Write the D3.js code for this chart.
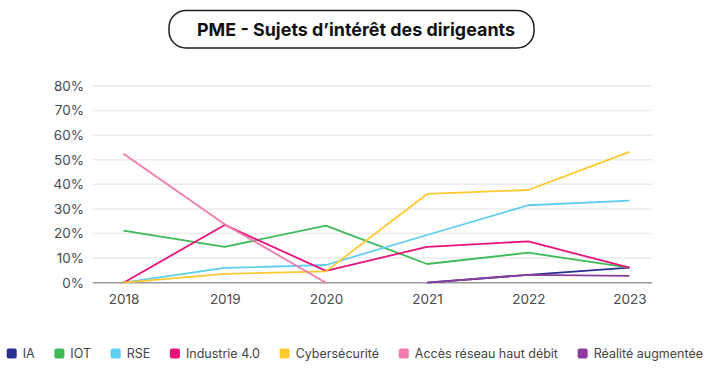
<!DOCTYPE html>
<html>
<head>
<meta charset="utf-8">
<script src="https://cdn.jsdelivr.net/npm/d3@7/dist/d3.min.js"></script>
<style>
  html, body { margin: 0; padding: 0; background: #ffffff; }
  svg { display: block; }
  text { font-family: Inter, "Open Sans", sans-serif; }
</style>
</head>
<body>
<svg id="chart" width="708" height="368"></svg>
<script>
const years = ["2018", "2019", "2020", "2021", "2022", "2023"];
const yTicks = [0, 10, 20, 30, 40, 50, 60, 70, 80];
const seriesNames = ["IA", "IOT", "RSE", "Industrie 4.0", "Cybersécurité", "Accès réseau haut débit", "Réalité augmentée"];
const seriesColors = ["#2b2f8f", "#3fba5b", "#5ecdf0", "#e8137b", "#fec92f", "#f37aaf", "#8b3d9e"];
const iaValues = [null, null, null, 0, 3.2, 6.1];
const iotValues = [21.2, 14.6, 23.2, 7.6, 12.2, 6.1];
const rseValues = [0, 6.0, 7.2, 19.4, 31.5, 33.4];
const industrieValues = [0, 23.5, 4.8, 14.6, 16.8, 6.1];
const cyberValues = [0, 3.6, 4.6, 36.1, 37.7, 53.2];
const accesValues = [52.4, 23.8, 0, null, null, null];
const realiteValues = [null, null, null, 0, 3.2, 2.8];
const seriesValues = [iaValues, iotValues, rseValues, industrieValues, cyberValues, accesValues, realiteValues];
const title = "PME - Sujets d’intérêt des dirigeants";

const svg = d3.select("#chart");

// Title box
const tg = svg.append("g");
tg.append("rect")
  .attr("x", 169).attr("y", 10.5).attr("width", 365).attr("height", 37.5)
  .attr("rx", 17).attr("ry", 17)
  .attr("fill", "#fff").attr("stroke", "#1f1f1f").attr("stroke-width", 1.5);
const tt = tg.append("text")
  .attr("x", 356).attr("y", 35.5)
  .attr("text-anchor", "middle")
  .attr("font-size", 18).attr("font-weight", 700)
  .attr("fill", "#111")
  .text(title);
tt.attr("textLength", 318).attr("lengthAdjust", "spacingAndGlyphs");

// Scales
const plotLeft = 93, plotRight = 652;
const x = d3.scalePoint().domain(years).range([123.5, 629.5]);
const y = d3.scaleLinear().domain([0, 80]).range([282.7, 86]);

// Grid
svg.append("g").selectAll("line").data(yTicks.filter(d => d > 0)).join("line")
  .attr("x1", plotLeft).attr("x2", plotRight)
  .attr("y1", d => y(d)).attr("y2", d => y(d))
  .attr("stroke", "#ebebeb").attr("stroke-width", 1.5);

// Y axis labels
const yAxis = d3.axisLeft(y).tickValues(yTicks).tickFormat(d => d + "%").tickSize(0).tickPadding(0);
const yg = svg.append("g").attr("transform", `translate(84,0)`).call(yAxis);
yg.select(".domain").remove();
yg.selectAll("text").attr("font-size", 13.5).attr("fill", "#4a4a4a")
  .attr("font-family", "Inter, sans-serif");

// X axis
const xAxis = d3.axisBottom(x).tickSize(0).tickPadding(0);
const xg = svg.append("g").attr("transform", `translate(0,${y(0)})`).call(xAxis);
xg.select(".domain").remove();
xg.selectAll("text").attr("font-size", 13.5).attr("fill", "#4a4a4a")
  .attr("dy", "1.55em").attr("font-family", "Inter, sans-serif");

// Baseline
svg.append("line")
  .attr("x1", plotLeft).attr("x2", plotRight)
  .attr("y1", y(0)).attr("y2", y(0))
  .attr("stroke", "#9a9a9a").attr("stroke-width", 1.5);

// Lines
const line = d3.line()
  .defined(d => d.v !== null)
  .x(d => x(d.year))
  .y(d => y(d.v));

seriesValues.forEach((vals, i) => {
  const pts = years.map((yr, j) => ({ year: yr, v: vals[j] }));
  svg.append("path")
    .datum(pts)
    .attr("d", line)
    .attr("fill", "none")
    .attr("stroke", seriesColors[i])
    .attr("stroke-width", 1.8)
    .attr("stroke-linejoin", "round");
});

// Legend
const lg = svg.append("g");
const legendY = 353.5;
const items = seriesNames.map((name, i) => {
  const g = lg.append("g");
  g.append("rect").attr("width", 10).attr("height", 10).attr("rx", 2).attr("ry", 2)
    .attr("y", legendY - 5).attr("fill", seriesColors[i]);
  const t = g.append("text").attr("x", 16).attr("y", legendY).attr("dy", "0.35em")
    .attr("font-size", 12.5).attr("fill", "#444").text(name);
  return { g, w: 16 + t.node().getComputedTextLength() };
});
const startX = 6.7, endX = 703;
const totalW = items.reduce((s, it) => s + it.w, 0);
const gap = (endX - startX - totalW) / (items.length - 1);
let cx = startX;
items.forEach(it => {
  it.g.attr("transform", `translate(${cx},0)`);
  cx += it.w + gap;
});
</script>
</body>
</html>
